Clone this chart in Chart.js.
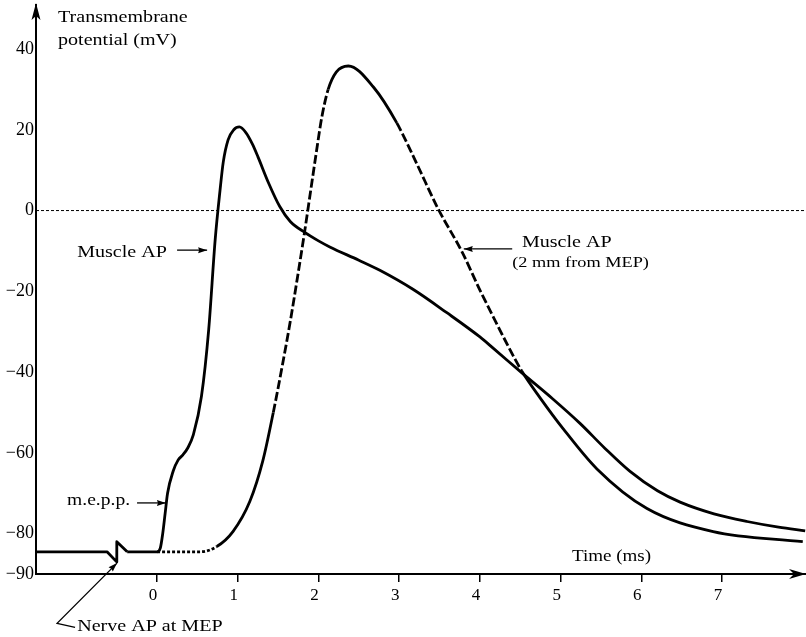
<!DOCTYPE html>
<html>
<head>
<meta charset="utf-8">
<script src="https://cdn.jsdelivr.net/npm/chart.js@4.4.1/dist/chart.umd.min.js"></script>
<style>
  html, body { margin: 0; padding: 0; background: #fff; }
  canvas { display: block; }
</style>
</head>
<body>
<canvas id="chartAP" width="806" height="637"></canvas>
<script>
// time (ms) / membrane potential (mV)
const nerveT = [-1.5, -0.62, -0.5, -0.499, -0.37];
const nerveV = [-84.5, -84.5, -87, -82, -84.5];

const apT = [-0.37, 0.0, 0.04, 0.07, 0.1, 0.13, 0.2, 0.26, 0.32, 0.38, 0.45, 0.55, 0.64, 0.72, 0.78, 0.82, 0.88, 0.95,
  1.02, 1.1, 1.18, 1.25, 1.38, 1.52, 1.65, 1.83, 2.0, 2.14, 2.5, 2.76, 3.17, 3.59, 4.0, 4.16, 4.52, 4.9, 5.24, 5.55,
  5.86, 6.2, 6.48, 6.9, 7.31, 7.7, 8.03];
const apV = [-84.5, -84.5, -83.6, -80, -75, -70, -64.5, -61.8, -60.5, -58.8, -55.5, -46, -29.4, -7.2, 5, 12, 17.5, 20,
  20.7, 19.3, 16.5, 13.3, 6.9, 1, -2.7, -5.4, -7.5, -9.0, -12.3, -14.8, -19.5, -25.3, -31.3, -34, -40.2, -46.6, -52.7, -58.9,
  -64.6, -69.4, -72.2, -75.1, -77, -78.4, -79.3];

const ap2T = [0.0, 0.53, 0.74, 0.94, 1.15, 1.31, 1.44, 1.56, 1.65, 1.74, 1.83, 1.9, 1.97, 2.04, 2.12, 2.22, 2.37, 2.68,
  2.97, 3.22, 3.48, 3.78, 4.0, 4.19, 4.34, 4.52, 4.75, 5.03, 5.45, 6.07, 6.89, 8.0];
const ap2V = [-84.5, -84.5, -83.2, -79.5, -72, -62, -50, -37.5, -27.5, -16.5, -5.0, 4.5, 14, 23, 30, 34.3, 35.8, 30.6,
  21.7, 11.5, 0.5, -10.3, -19.7, -27.3, -33.2, -39.8, -46.5, -54, -64, -73.8, -79.5, -82];

const zeroT = [-1.5, 8.04];
const zeroV = [0, 0];

const xTicks = [0, 1, 2, 3, 4, 5, 6, 7];
const yTicks = [-90, -80, -60, -40, -20, 0, 20, 40];

const pts = (xs, ys) => xs.map((x, i) => ({ x, y: ys[i] }));
const FONT = 'Liberation Serif, "Times New Roman", serif';

// dashed pieces of the "2 mm from MEP" trace
const dashAt = (t) => (t < 0.6 ? [3, 2] : ((t > 1.4 && t < 2.1) || (t > 2.8 && t < 4.5) || t > 7.2) ? [9, 3] : []);

const notes = {
  id: 'notes',
  afterDraw(chart) {
    const { ctx, chartArea: a, scales: { x, y } } = chart;
    const px = (v) => x.getPixelForValue(v), py = (v) => y.getPixelForValue(v);

    const head = (tx, ty, ang, len, w, notch) => {
      ctx.save();
      ctx.translate(tx, ty);
      ctx.rotate(ang);
      ctx.beginPath();
      ctx.moveTo(0, 0);
      ctx.lineTo(-len, -w);
      ctx.lineTo(-len + notch, 0);
      ctx.lineTo(-len, w);
      ctx.closePath();
      ctx.fill();
      ctx.restore();
    };
    const arrow = (path) => {
      const p = path.map(([u, v]) => [px(u), py(v)]);
      ctx.beginPath();
      ctx.moveTo(p[0][0], p[0][1]);
      p.slice(1).forEach(([u, v]) => ctx.lineTo(u, v));
      ctx.stroke();
      const [x1, y1] = p[p.length - 2], [x2, y2] = p[p.length - 1];
      head(x2, y2, Math.atan2(y2 - y1, x2 - x1), 9, 3, 1);
    };
    const text = (s, u, v, size, sx) => {
      ctx.save();
      ctx.translate(px(u), py(v));
      ctx.scale(sx, 1);
      ctx.font = size + 'px ' + FONT;
      ctx.textBaseline = 'middle';
      ctx.textAlign = 'left';
      ctx.fillText(s, 0, 0);
      ctx.restore();
    };

    ctx.save();
    ctx.fillStyle = '#000';
    ctx.strokeStyle = '#000';

    // axis arrows
    head(a.left, a.top - 2, -Math.PI / 2, 17, 4.5, 4);
    head(a.right, a.bottom, 0, 17, 5, 5);

    ctx.lineWidth = 1.3;
    text('Transmembrane', -1.227, 47.7, 17, 1.18);
    text('potential (mV)', -1.227, 42.2, 17, 1.18);
    text('Muscle AP', -0.99, -10.3, 17, 1.18);
    arrow([[0.248, -9.8], [0.62, -9.8]]);
    text('Muscle AP', 4.52, -7.8, 17, 1.18);
    text('(2 mm from MEP)', 4.40, -13.0, 15, 1.22);
    arrow([[4.40, -9.5], [3.8, -9.5]]);
    text('m.e.p.p.', -1.115, -71.7, 17, 1.15);
    arrow([[-0.248, -72.4], [0.11, -72.4]]);
    text('Time (ms)', 5.14, -85.6, 17, 1.12);
    text('Nerve AP at MEP', -0.99, -103.1, 17, 1.18);
    arrow([[-1.016, -103.2], [-1.239, -102.2], [-0.496, -87.3]]);
    ctx.restore();
  }
};

new Chart(document.getElementById('chartAP'), {
  type: 'line',
  data: {
    datasets: [
      { label: 'zero', data: pts(zeroT, zeroV), borderColor: '#000', borderWidth: 1, borderDash: [3, 2], tension: 0 },
      { label: 'Nerve AP at MEP', data: pts(nerveT, nerveV), borderColor: '#000', borderWidth: 2.8, tension: 0 },
      { label: 'Muscle AP', data: pts(apT, apV), borderColor: '#000', borderWidth: 2.8, cubicInterpolationMode: 'monotone' },
      {
        label: 'Muscle AP (2 mm from MEP)', data: pts(ap2T, ap2V), borderColor: '#000', borderWidth: 2.8,
        cubicInterpolationMode: 'monotone',
        segment: { borderDash: (c) => dashAt(c.p0.parsed.x) }
      }
    ]
  },
  options: {
    responsive: false,
    animation: false,
    layout: { padding: { top: 5, left: 0, right: 0, bottom: 0 } },
    elements: { point: { radius: 0 }, line: { borderCapStyle: 'butt', borderJoinStyle: 'round' } },
    plugins: { legend: { display: false }, tooltip: { enabled: false } },
    scales: {
      x: {
        type: 'linear', min: -1.5, max: 8.04,
        afterBuildTicks: (s) => { s.ticks = xTicks.map((v) => ({ value: v })); },
        afterFit: (s) => { s.height = 63; s.paddingLeft = 0; s.paddingRight = 0; },
        border: { display: true, color: '#000', width: 2 },
        grid: { drawOnChartArea: false, drawTicks: true, tickLength: 8, color: '#000', lineWidth: 1.5 },
        ticks: { color: '#000', font: { family: FONT, size: 17 }, padding: 3, labelOffset: -4, maxRotation: 0 }
      },
      y: {
        type: 'linear', min: -90, max: 50.9,
        afterBuildTicks: (s) => { s.ticks = yTicks.map((v) => ({ value: v })); },
        afterFit: (s) => { s.width = 36; s.paddingTop = 0; s.paddingBottom = 0; },
        border: { display: true, color: '#000', width: 2 },
        grid: { display: false, drawTicks: false },
        ticks: {
          color: '#000', font: { family: FONT, size: 18 }, padding: 2,
          callback: (v) => (v < 0 ? '\u2212' + Math.abs(v) : String(v))
        }
      }
    }
  },
  plugins: [notes]
});
</script>
</body>
</html>
